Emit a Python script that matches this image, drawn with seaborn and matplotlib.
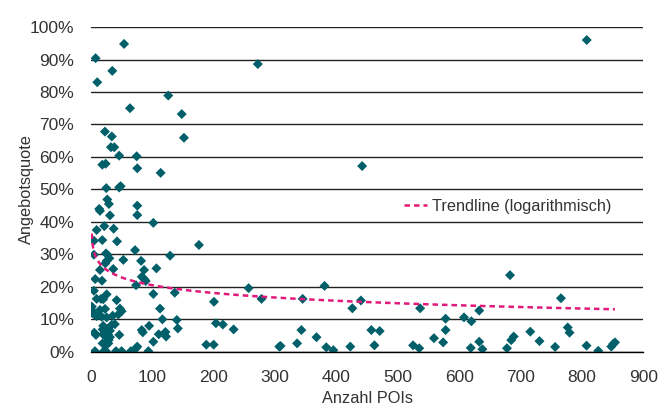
import numpy as np
import pandas as pd
import seaborn as sns
import matplotlib.pyplot as plt
from matplotlib.ticker import PercentFormatter

# Anzahl POIs je Gebiet (x) und Angebotsquote in % (y)
anzahl_pois = [
    54, 7.6, 34.8, 10.3, 126, 63.6, 148, 22.8, 34, 151.6, 32.6, 38, 46, 74.5,
    18.5, 24, 75.5, 113.6, 25, 46, 48.4, 26.6, 29.3, 13.5, 75.5, 442, 808, 272,
    176, 257, 200.5, 278, 203.7, 215, 232.5, 188, 200, 380.7, 345, 343, 336,
    367.6, 307, 309, 383.5, 395, 426, 440, 422.7, 457, 470.6, 462, 525, 535,
    536.5, 559, 574, 578, 578, 608, 620, 619, 632.8, 632.8, 638, 683, 678, 685,
    689, 716, 731, 756.5, 766, 777, 780, 807.7, 826.8, 848, 851, 854,
    75.5, 14.7, 31, 101.7, 9.3, 21.7, 37, 4.9, 18.5, 42.5, 71.9, 4.9, 24.5,
    27.2, 129, 30, 25.6, 23.4, 52.8, 81.7, 14.7, 36.4, 86.6, 106.7, 82.8, 87,
    89.3, 7, 18, 73.5, 136.6, 101.7, 4.9, 25.6, 9.3, 16.3, 20, 41.9, 1.5, 1,
    2, 14.7, 23, 47.3, 50, 44.6, 112.6, 5.4, 9.3, 17.5, 25.6, 35.4, 116.5, 140,
    39, 33.8, 20, 94.8, 19, 25.6, 31, 82.8, 84.5, 141.6, 121.4, 5.4, 8.2, 19.6,
    24.5, 28.3, 31, 28.8, 46.2, 110.5, 122.5, 19, 24.5, 28.3, 75.5, 73.5,
    101.7, 6.5, 21, 24.5, 40.8, 50, 65, 93.6,
]
angebotsquote = [
    94.8, 90.4, 86.5, 83, 78.9, 75, 73.2, 67.8, 66.3, 65.9, 63, 63, 60.4, 60.2,
    57.6, 57.9, 56.5, 55.1, 50.4, 50.6, 51, 46.9, 45.5, 44, 45, 57.2, 96, 88.6,
    32.9, 19.6, 15.4, 16.3, 8.8, 8.4, 6.9, 2.2, 2.2, 20.3, 16.3, 6.7, 2.6,
    4.5, 1.6, 1.8, 1.4, 0.5, 13.4, 15.8, 1.6, 6.7, 6.4, 2, 2, 1.1,
    13.4, 4.2, 2.9, 10.2, 6.7, 10.6, 9.4, 1.2, 12.7, 3.1, 0.8, 23.6, 1.1, 3.6,
    4.7, 6.2, 3.3, 1.5, 16.5, 7.5, 5.9, 1.9, 0.3, 1.6, 2.4, 2.9,
    42.1, 43.4, 42, 39.7, 37.5, 38.7, 37.9, 34.2, 34.4, 34, 31.3, 29.9, 30.3,
    29.8, 29.6, 28.8, 28, 27.2, 28.3, 28, 25.2, 25.5, 25.2, 25.7, 23.1, 22.4,
    21.8, 22.4, 21.9, 20.5, 18.2, 17.8, 18.8, 17.7, 16.3, 16.3, 16.2, 15.9, 13.9, 12.9,
    12, 12.9, 13.2, 13.3, 12.5, 11.5, 13.3, 11.5, 11, 10.8, 10.6, 11.1, 10, 9.8,
    8.5, 8.3, 8, 8, 6.9, 7, 6.5, 6.7, 6, 7.2, 6.1, 5.9, 5.2, 5.4,
    4.7, 5.2, 4.5, 3.6, 5.2, 5.4, 4.7, 2.6, 2.4, 2.6, 1.6, 1.1,
    3.1, 0.2, 0.2, 0.2, 0.2, 0.2, 0.2, 0.2,
]

df = pd.DataFrame({"pois": anzahl_pois, "quote": angebotsquote})

# logarithmische Trendlinie wie in Excel: y = a + b*ln(x)
b, a = np.polyfit(np.log(df["pois"]), df["quote"], 1)
trend = pd.DataFrame({"pois": np.linspace(df["pois"].min(), df["pois"].max(), 400)})
trend["quote"] = a + b * np.log(trend["pois"])

sns.set_style("white")
plt.rcParams["font.family"] = ["Liberation Sans", "DejaVu Sans"]
plt.rcParams["text.color"] = "#333333"
plt.rcParams["axes.labelcolor"] = "#333333"
plt.rcParams["xtick.color"] = "#333333"
plt.rcParams["ytick.color"] = "#333333"

fig = plt.figure(figsize=(6.59, 4.07), dpi=100)
ax = fig.add_axes([0.138, 0.1356, 0.838, 0.798])

ax.set_axisbelow(True)
ax.yaxis.grid(True, color="#222222", linewidth=1)
sns.scatterplot(data=df, x="pois", y="quote", marker="D", s=26, color="#005f69",
                edgecolor="none", ax=ax, legend=False, zorder=3)
sns.lineplot(data=trend, x="pois", y="quote", color="#e0197a", linewidth=1.8,
             dashes=False, linestyle=(0, (2.2, 1.6)), ax=ax,
             label="Trendline (logarithmisch)", zorder=4)

ax.set_xlim(0, 900)
ax.set_ylim(0, 100)
ax.set_xticks(range(0, 901, 100))
ax.set_yticks(range(0, 101, 10))
ax.yaxis.set_major_formatter(PercentFormatter(decimals=0))
for side in ["left", "right", "top"]:
    ax.spines[side].set_visible(False)
ax.spines["bottom"].set_color("#000000")
ax.spines["bottom"].set_linewidth(1)
ax.spines["bottom"].set_zorder(5)
ax.tick_params(axis="x", direction="out", length=5, width=1, color="#000000",
               labelsize=12.5, pad=8)
ax.tick_params(axis="y", length=0, labelsize=12.5, pad=12)
ax.set_xlabel("Anzahl POIs", fontsize=11.8)
ax.set_ylabel("Angebotsquote", fontsize=11.8)
ax.xaxis.set_label_coords(0.5, -0.12)
ax.yaxis.set_label_coords(-0.103, 0.5)

ax.legend(loc="center left", bbox_to_anchor=(0.541, 0.447), frameon=False,
          fontsize=11.7, handlelength=1.4, handletextpad=0.3)

fig.savefig("out.png", dpi=100)
